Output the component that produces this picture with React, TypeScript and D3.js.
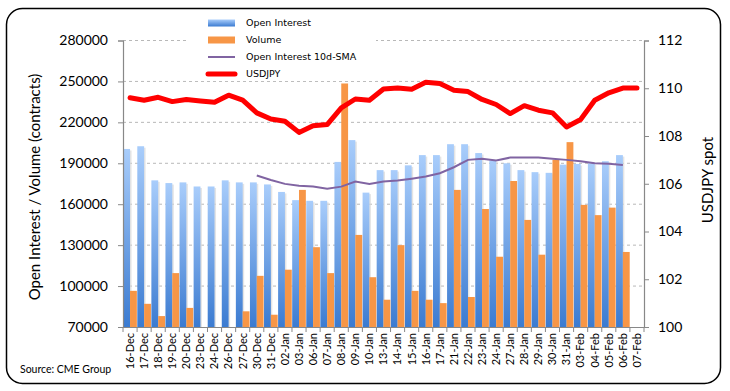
import * as d3 from "d3";
import { useEffect, useRef } from "react";

const dates = [
  "16-Dec", "17-Dec", "18-Dec", "19-Dec", "20-Dec", "23-Dec", "24-Dec", "26-Dec", "27-Dec", "30-Dec",
  "31-Dec", "02-Jan", "03-Jan", "06-Jan", "07-Jan", "08-Jan", "09-Jan", "10-Jan", "13-Jan", "14-Jan",
  "15-Jan", "16-Jan", "17-Jan", "21-Jan", "22-Jan", "23-Jan", "24-Jan", "27-Jan", "28-Jan", "29-Jan",
  "30-Jan", "31-Jan", "03-Feb", "04-Feb", "05-Feb", "06-Feb", "07-Feb",
];

const openInterest: (number | null)[] = [
  200500, 202500, 177500, 175500, 176000, 173000, 173000, 177500, 176000, 176000,
  174500, 169000, 163000, 162500, 162500, 191000, 207000, 168500, 185000, 185000,
  188500, 196000, 196000, 204000, 204000, 197500, 192000, 190000, 185000, 183500,
  183000, 189000, 189500, 190000, 191500, 196000, null,
];

const volume: (number | null)[] = [
  96500, 87000, 78000, 109500, 84000, null, null, null, 81500, 107500,
  79000, 112000, 170500, 128500, 109500, 248500, 137500, 106500, 90000, 130000,
  96500, 90000, 87500, 170500, 92000, 156500, 121500, 177000, 148500, 123000,
  192500, 205500, 159500, 152000, 157500, 125000, null,
];

const oiSma: (number | null)[] = [
  null, null, null, null, null, null, null, null, null, 181000,
  177800, 174900, 173500, 172900, 171400, 172900, 176600, 174900, 176600, 177300,
  178700, 180300, 182700, 187100, 192500, 193400, 192000, 194200, 194200, 194200,
  193400, 192500, 191500, 190100, 189600, 188800, null,
];

const usdjpy = [
  109.6, 109.5, 109.62, 109.44, 109.53, 109.47, 109.41, 109.71, 109.5, 108.97,
  108.71, 108.62, 108.15, 108.43, 108.48, 109.18, 109.55, 109.5, 109.97, 110.01,
  109.96, 110.25, 110.2, 109.92, 109.86, 109.53, 109.32, 108.94, 109.27, 109.08,
  108.97, 108.38, 108.69, 109.5, 109.81, 110.01, 110.01,
];

const leftTicks = [70000, 100000, 130000, 160000, 190000, 220000, 250000, 280000];
const rightTicks = [100, 102, 104, 106, 108, 110, 112];

const legendItems = [
  { label: "Open Interest", kind: "oi" },
  { label: "Volume", kind: "vol" },
  { label: "Open Interest 10d-SMA", kind: "sma" },
  { label: "USDJPY", kind: "fx" },
];

export default function App() {
  const svgRef = useRef<SVGSVGElement>(null);

  useEffect(() => {
    if (!svgRef.current) return;
    const svg = d3.select<SVGSVGElement, unknown>(svgRef.current);
    svg.selectAll("*").remove();

    const width = 730;
    const height = 391;
    const plot = { left: 123, right: 644, top: 40.5, bottom: 327 };
    const font = "Lato, 'Open Sans', sans-serif";

    svg.attr("width", width).attr("height", height);
    svg.append("rect").attr("width", width).attr("height", height).attr("fill", "#fff");

    const defs = svg.append("defs");
    const grad = defs
      .append("linearGradient")
      .attr("id", "oiGrad")
      .attr("x1", 0).attr("y1", 0).attr("x2", 0).attr("y2", 1);
    grad.append("stop").attr("offset", "0%").attr("stop-color", "#a9cdfb");
    grad.append("stop").attr("offset", "100%").attr("stop-color", "#3b7bd1");

    const x = d3
      .scaleBand<string>()
      .domain(dates)
      .range([plot.left, plot.right])
      .paddingInner(0.03)
      .paddingOuter(0.015);
    const sub = d3.scaleBand<string>().domain(["oi", "vol"]).range([0, x.bandwidth()]);
    const yL = d3.scaleLinear().domain([70000, 280000]).range([plot.bottom, plot.top]);
    const yR = d3.scaleLinear().domain([100, 112]).range([plot.bottom, plot.top]);

    // gridlines
    svg
      .append("g")
      .selectAll("line")
      .data(leftTicks.slice(1))
      .enter()
      .append("line")
      .attr("x1", plot.left)
      .attr("x2", plot.right)
      .attr("y1", (d) => yL(d))
      .attr("y2", (d) => yL(d))
      .attr("stroke", "#b8b8b8")
      .attr("stroke-dasharray", "3,3");

    const idx = dates.map((_, i) => i);

    // bar shadows
    svg
      .append("g")
      .selectAll("rect")
      .data(idx.filter((i) => openInterest[i] != null))
      .enter()
      .append("rect")
      .attr("x", (i) => x(dates[i])! + sub("oi")! + 1.5)
      .attr("y", (i) => yL(openInterest[i]!) + 1.5)
      .attr("width", sub.bandwidth())
      .attr("height", (i) => plot.bottom - yL(openInterest[i]!) - 1.5)
      .attr("fill", "#d9d9d9")
      .attr("opacity", 0.7);

    svg
      .append("g")
      .selectAll("rect")
      .data(idx.filter((i) => openInterest[i] != null))
      .enter()
      .append("rect")
      .attr("x", (i) => x(dates[i])! + sub("oi")!)
      .attr("y", (i) => yL(openInterest[i]!))
      .attr("width", sub.bandwidth())
      .attr("height", (i) => plot.bottom - yL(openInterest[i]!))
      .attr("fill", "url(#oiGrad)");

    svg
      .append("g")
      .selectAll("rect")
      .data(idx.filter((i) => volume[i] != null))
      .enter()
      .append("rect")
      .attr("x", (i) => x(dates[i])! + sub("vol")!)
      .attr("y", (i) => yL(volume[i]!))
      .attr("width", sub.bandwidth())
      .attr("height", (i) => plot.bottom - yL(volume[i]!))
      .attr("fill", "#f79646");

    const cx = (i: number) => x(dates[i])! + x.bandwidth() / 2;

    const smaLine = d3
      .line<number>()
      .defined((i) => oiSma[i] != null)
      .x(cx)
      .y((i) => yL(oiSma[i]!));
    svg
      .append("path")
      .attr("d", smaLine(idx))
      .attr("fill", "none")
      .attr("stroke", "#8064a2")
      .attr("stroke-width", 2);

    const fxLine = d3
      .line<number>()
      .x(cx)
      .y((i) => yR(usdjpy[i]));
    svg
      .append("path")
      .attr("d", fxLine(idx))
      .attr("fill", "none")
      .attr("stroke", "#ff0000")
      .attr("stroke-width", 5)
      .attr("stroke-linejoin", "round")
      .attr("stroke-linecap", "round");

    // left axis
    const leftAxis = svg
      .append("g")
      .attr("transform", `translate(${plot.left},0)`)
      .call(
        d3.axisLeft(yL).tickValues(leftTicks).tickSize(5).tickPadding(10).tickFormat(d3.format("d")),
      );
    leftAxis.select(".domain").attr("stroke", "#888").attr("stroke-width", 1.2);
    leftAxis.selectAll(".tick line").attr("stroke", "#888");
    leftAxis
      .selectAll(".tick text")
      .attr("fill", "#000")
      .attr("font-size", "14px")
      .attr("font-family", font);

    // right axis
    const rightAxis = svg
      .append("g")
      .attr("transform", `translate(${plot.right},0)`)
      .call(d3.axisRight(yR).tickValues(rightTicks).tickSize(5).tickPadding(9));
    rightAxis.select(".domain").attr("stroke", "#888").attr("stroke-width", 1.2);
    rightAxis.selectAll(".tick line").attr("stroke", "#888");
    rightAxis
      .selectAll(".tick text")
      .attr("fill", "#000")
      .attr("font-size", "14px")
      .attr("font-family", font);

    // bottom axis
    const bottomAxis = svg
      .append("g")
      .attr("transform", `translate(0,${plot.bottom})`)
      .call(d3.axisBottom(x).tickSize(0).tickPadding(0));
    bottomAxis.select(".domain").attr("stroke", "#888").attr("stroke-width", 1.2);
    bottomAxis
      .selectAll(".tick text")
      .attr("transform", "rotate(-90)")
      .attr("text-anchor", "end")
      .attr("x", -6)
      .attr("y", 0)
      .attr("dy", "0.35em")
      .attr("fill", "#000")
      .attr("font-size", "11px")
      .attr("font-family", font);
    const step = x.step();
    svg
      .append("g")
      .selectAll("line")
      .data(d3.range(dates.length + 1))
      .enter()
      .append("line")
      .attr("x1", (i) => plot.left + i * step)
      .attr("x2", (i) => plot.left + i * step)
      .attr("y1", plot.bottom)
      .attr("y2", plot.bottom + 5)
      .attr("stroke", "#888");

    // axis titles
    svg
      .append("text")
      .attr("transform", "translate(35,187) rotate(-90)")
      .attr("text-anchor", "middle")
      .attr("dy", "0.35em")
      .attr("font-size", "15px")
      .attr("font-family", font)
      .text("Open Interest / Volume (contracts)");
    svg
      .append("text")
      .attr("transform", "translate(708,180) rotate(-90)")
      .attr("text-anchor", "middle")
      .attr("dy", "0.35em")
      .attr("font-size", "15px")
      .attr("font-family", font)
      .text("USDJPY spot");

    // legend
    svg
      .append("rect")
      .attr("x", 186)
      .attr("y", 11)
      .attr("width", 190)
      .attr("height", 70)
      .attr("fill", "#fff");
    const lg = svg.append("g");
    legendItems.forEach((item, i) => {
      const yy = 23 + i * 17;
      if (item.kind === "oi" || item.kind === "vol") {
        lg.append("rect")
          .attr("x", 208)
          .attr("y", yy - 3.5)
          .attr("width", 27)
          .attr("height", 7)
          .attr("fill", item.kind === "oi" ? "url(#oiGrad)" : "#f79646");
      } else {
        lg.append("line")
          .attr("x1", 208)
          .attr("x2", 235)
          .attr("y1", yy)
          .attr("y2", yy)
          .attr("stroke", item.kind === "sma" ? "#8064a2" : "#ff0000")
          .attr("stroke-width", item.kind === "sma" ? 2 : 5)
          .attr("stroke-linecap", item.kind === "sma" ? "butt" : "round");
      }
      lg.append("text")
        .attr("x", 246)
        .attr("y", yy)
        .attr("dy", "0.35em")
        .attr("font-size", "9.5px")
        .attr("font-family", "'DejaVu Sans', sans-serif")
        .text(item.label);
    });

    svg
      .append("text")
      .attr("x", 20)
      .attr("y", 369)
      .attr("dy", "0.35em")
      .attr("font-size", "10.5px")
      .attr("font-family", font)
      .text("Source: CME Group");

    // frame
    svg
      .append("rect")
      .attr("x", 6.5)
      .attr("y", 8.5)
      .attr("width", 714)
      .attr("height", 375)
      .attr("rx", 16)
      .attr("fill", "none")
      .attr("stroke", "#000")
      .attr("stroke-width", 1.5);
  }, []);

  return (
    <svg
      ref={svgRef}
      style={{ position: "absolute", left: 0, top: 0, display: "block" }}
    ></svg>
  );
}
